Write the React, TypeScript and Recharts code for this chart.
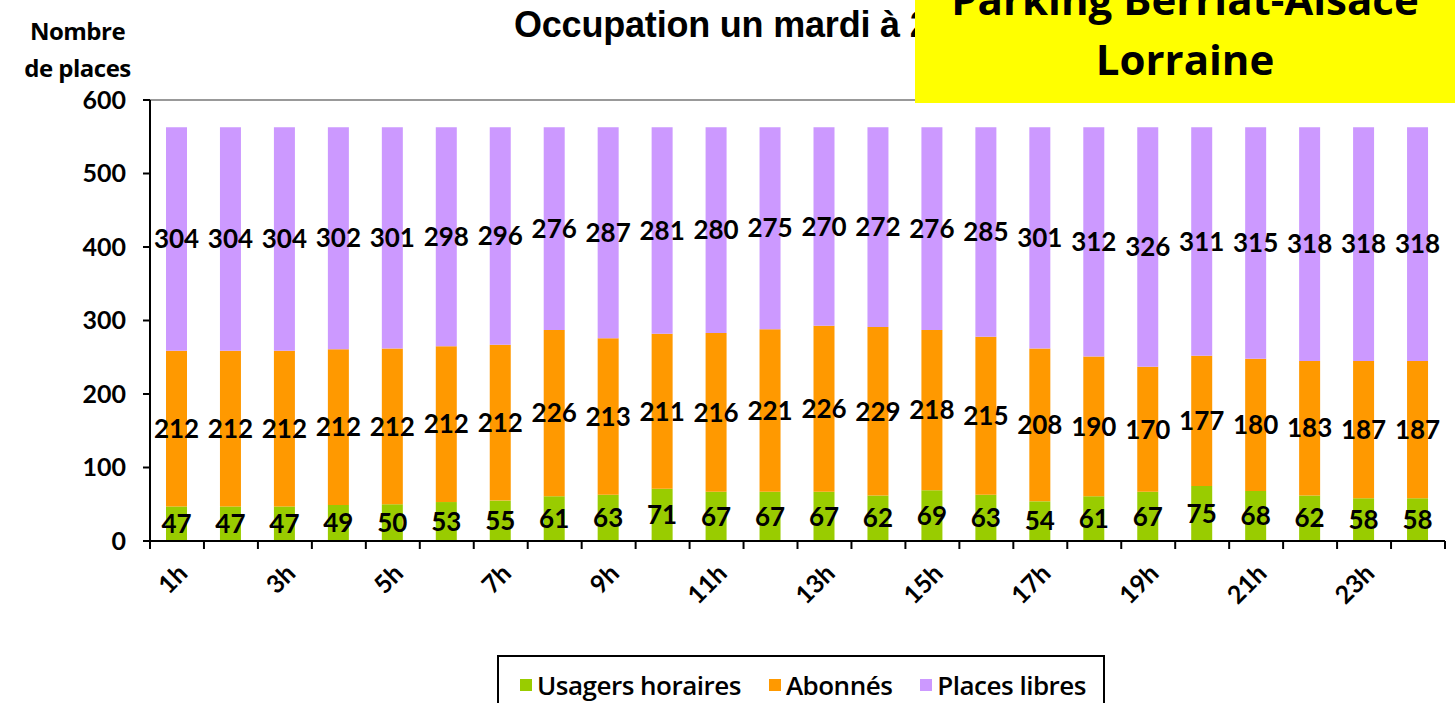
import { BarChart, Bar, XAxis, YAxis, LabelList, ReferenceLine } from "recharts";

const hours = [
  "1h", "2h", "3h", "4h", "5h", "6h", "7h", "8h", "9h", "10h", "11h", "12h",
  "13h", "14h", "15h", "16h", "17h", "18h", "19h", "20h", "21h", "22h", "23h", "24h",
];
const usagers = [47, 47, 47, 49, 50, 53, 55, 61, 63, 71, 67, 67, 67, 62, 69, 63, 54, 61, 67, 75, 68, 62, 58, 58];
const abonnes = [212, 212, 212, 212, 212, 212, 212, 226, 213, 211, 216, 221, 226, 229, 218, 215, 208, 190, 170, 177, 180, 183, 187, 187];
const libres = [304, 304, 304, 302, 301, 298, 296, 276, 287, 281, 280, 275, 270, 272, 276, 285, 301, 312, 326, 311, 315, 318, 318, 318];
const yTicks = [0, 100, 200, 300, 400, 500, 600];

const GREEN = "#99CC00";
const ORANGE = "#FF9900";
const PURPLE = "#CC99FF";

const data = hours.map((h, i) => ({
  hour: h,
  usagers: usagers[i],
  abonnes: abonnes[i],
  libres: libres[i],
}));

const W = 1455;
const H = 703;
const PLOT_LEFT = 150;
const PLOT_RIGHT = 1445;
const STEP = (PLOT_RIGHT - PLOT_LEFT) / hours.length;

const numFont = "Lato, 'Open Sans', sans-serif";

function XTick(props: any) {
  const { x, y, payload, index } = props;
  const last = index === hours.length - 1;
  return (
    <g>
      <line x1={x - STEP / 2} y1={y} x2={x - STEP / 2} y2={y + 8} stroke="#000" strokeWidth={2} />
      {last && <line x1={x + STEP / 2} y1={y} x2={x + STEP / 2} y2={y + 8} stroke="#000" strokeWidth={2} />}
      {index % 2 === 0 && (
        <text
          transform={`translate(${x + 12}, ${y + 34}) rotate(-45)`}
          textAnchor="end"
          fontFamily={numFont}
          fontWeight={700}
          fontSize={25}
          fill="#000"
        >
          {payload.value}
        </text>
      )}
    </g>
  );
}

const legendItems = [
  { label: "Usagers horaires", color: GREEN },
  { label: "Abonnés", color: ORANGE },
  { label: "Places libres", color: PURPLE },
];

function App() {
  const labelStyle = { fontFamily: numFont, fontWeight: 700, fontSize: 26, fill: "#000" };
  return (
    <div style={{ position: "absolute", left: 0, top: 0, width: W, height: H, overflow: "hidden", background: "#fff" }}>
      <div
        style={{
          position: "absolute",
          left: 15,
          top: 12,
          width: 125,
          textAlign: "center",
          fontFamily: "'Open Sans', sans-serif",
          fontWeight: 700,
          fontSize: 24,
          lineHeight: "37px",
          letterSpacing: -0.5,
        }}
      >
        Nombre
        <br />
        de places
      </div>
      <div
        style={{
          position: "absolute",
          left: 514,
          top: 4,
          fontFamily: "'Liberation Sans', Arial, sans-serif",
          fontWeight: 700,
          fontSize: 36,
          letterSpacing: -0.2,
          whiteSpace: "nowrap",
        }}
      >
        Occupation un mardi à 24h
      </div>
      <BarChart
        width={W}
        height={H}
        data={data}
        margin={{ top: 100, right: W - PLOT_RIGHT, bottom: 0, left: 0 }}
        barSize={21}
      >
        <YAxis
          domain={[0, 600]}
          ticks={yTicks}
          width={PLOT_LEFT}
          axisLine={{ stroke: "#000", strokeWidth: 2 }}
          tickLine={{ stroke: "#000", strokeWidth: 2 }}
          tickSize={7}
          tickMargin={17}
          tick={{ fontFamily: numFont, fontWeight: 700, fontSize: 25, fill: "#000" }}
        />
        <YAxis yAxisId="r" orientation="right" width={0} tick={false} axisLine={{ stroke: "#999", strokeWidth: 2 }} />
        <XAxis
          dataKey="hour"
          interval={0}
          height={162}
          tickLine={false}
          tickSize={0}
          tickMargin={0}
          axisLine={{ stroke: "#000", strokeWidth: 2 }}
          tick={<XTick />}
        />
        <ReferenceLine y={600} stroke="#999" strokeWidth={2} />
        <Bar dataKey="usagers" stackId="a" fill={GREEN} isAnimationActive={false}>
          <LabelList dataKey="usagers" position="center" style={labelStyle} />
        </Bar>
        <Bar dataKey="abonnes" stackId="a" fill={ORANGE} isAnimationActive={false}>
          <LabelList dataKey="abonnes" position="center" style={labelStyle} />
        </Bar>
        <Bar dataKey="libres" stackId="a" fill={PURPLE} isAnimationActive={false}>
          <LabelList dataKey="libres" position="center" style={labelStyle} />
        </Bar>
      </BarChart>
      <div
        style={{
          position: "absolute",
          left: 497,
          top: 655,
          width: 608,
          height: 60,
          border: "2px solid #000",
          boxSizing: "border-box",
          display: "flex",
          alignItems: "flex-start",
          paddingTop: 12,
          paddingLeft: 21,
          gap: 28,
          fontFamily: "'Open Sans', sans-serif",
          fontWeight: 600,
          fontSize: 26,
          letterSpacing: -0.5,
          background: "#fff",
        }}
      >
        {legendItems.map((it) => (
          <div key={it.label} style={{ display: "flex", alignItems: "center", gap: 5, lineHeight: "32px" }}>
            <span style={{ display: "inline-block", width: 12, height: 12, background: it.color }} />
            <span>{it.label}</span>
          </div>
        ))}
      </div>
      <div
        style={{
          position: "absolute",
          left: 915,
          top: 0,
          width: 540,
          height: 103,
          background: "#FFFF00",
          overflow: "hidden",
          textAlign: "center",
          fontFamily: "'Open Sans', sans-serif",
          fontWeight: 700,
          fontSize: 42,
          lineHeight: "60px",
        }}
      >
        <div style={{ marginTop: -31 }}>
          Parking Berriat-Aisace
          <br />
          Lorraine
        </div>
      </div>
    </div>
  );
}

export default App;
